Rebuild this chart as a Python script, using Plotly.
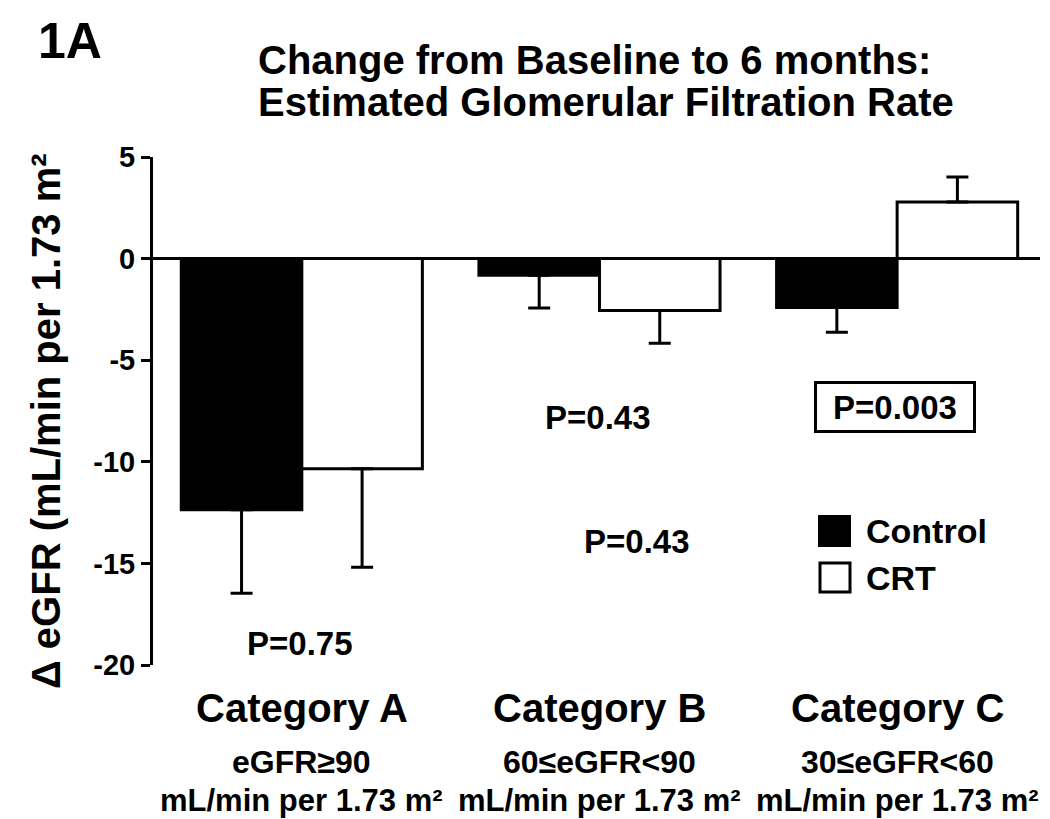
import plotly.graph_objects as go

categories = ["Category A", "Category B", "Category C"]
ranges = ["eGFR≥90", "60≤eGFR<90", "30≤eGFR<60"]
unit_label = "mL/min per 1.73 m²"

control_vals = [-12.36, -0.82, -2.41]
control_err_minus = [4.11, 1.61, 1.22]
control_err_plus = [0, 0, 0]

crt_vals = [-10.34, -2.55, 2.79]
crt_err_minus = [4.85, 1.61, 0]
crt_err_plus = [0, 0, 1.23]

y_ticks = [5, 0, -5, -10, -15, -20]
p_labels = ["P=0.75", "P=0.43", "P=0.43", "P=0.003"]
FONT = "Liberation Sans"

W, H = 1050, 819
ML, MR, MT, MB = 153, 10, 157, 154

fig = go.Figure()
fig.add_trace(go.Bar(
    x=categories, y=control_vals, name="Control",
    marker=dict(color="black", line=dict(color="black", width=3)),
    error_y=dict(type="data", symmetric=False, array=control_err_plus,
                 arrayminus=control_err_minus, color="black", thickness=3, width=11),
))
fig.add_trace(go.Bar(
    x=categories, y=crt_vals, name="CRT",
    marker=dict(color="white", line=dict(color="black", width=3)),
    error_y=dict(type="data", symmetric=False, array=crt_err_plus,
                 arrayminus=crt_err_minus, color="black", thickness=3, width=11),
))

fig.update_layout(
    width=W, height=H,
    margin=dict(l=ML, r=MR, t=MT, b=MB),
    paper_bgcolor="white", plot_bgcolor="white",
    barmode="group", bargap=0.19, bargroupgap=0,
    showlegend=False,
    font=dict(family=FONT, color="black"),
    xaxis=dict(range=[-0.5, 2.48], showticklabels=False, showline=False,
               showgrid=False, ticks="", zeroline=False),
    yaxis=dict(range=[-20, 5], tickvals=y_ticks, ticktext=[str(v) for v in y_ticks],
               showline=True, linecolor="black", linewidth=3,
               ticks="outside", ticklen=9, tickwidth=3, tickcolor="black",
               showgrid=False, zeroline=True, zerolinecolor="black", zerolinewidth=3,
               tickfont=dict(size=29, family=FONT, color="black", weight="bold")),
)


def px_x(px):
    return (px - ML) / (W - ML - MR)


def px_y(py):
    return (H - MB - py) / (H - MT - MB)


def bold(t):
    return f"<b>{t}</b>"


def note(x, y, text, size, xanchor="center", **kw):
    fig.add_annotation(x=px_x(x), y=px_y(y), xref="paper", yref="paper",
                       text=bold(text), showarrow=False, xanchor=xanchor,
                       yanchor="middle", font=dict(size=size, family=FONT, color="black"),
                       **kw)


# Panel label and title
note(36, 41, "1A", 50, xanchor="left")
note(256, 60, "Change from Baseline to 6 months:", 40, xanchor="left")
note(256, 102, "Estimated Glomerular Filtration Rate", 40, xanchor="left")

# Y axis title
note(46, 421, "Δ eGFR (mL/min per 1.73 m²", 40, textangle=-90)

# Category labels
for cat, rng in zip(categories, ranges):
    fig.add_annotation(x=cat, y=px_y(708), xref="x", yref="paper", text=bold(cat),
                       showarrow=False, xanchor="center", yanchor="middle",
                       font=dict(size=40, family=FONT, color="black"))
    fig.add_annotation(x=cat, y=px_y(762), xref="x", yref="paper", text=bold(rng),
                       showarrow=False, xanchor="center", yanchor="middle",
                       font=dict(size=32, family=FONT, color="black"))
    fig.add_annotation(x=cat, y=px_y(800), xref="x", yref="paper", text=bold(unit_label),
                       showarrow=False, xanchor="center", yanchor="middle",
                       font=dict(size=31, family=FONT, color="black"))

# P values
note(300, 643, p_labels[0], 33)
note(598, 417, p_labels[1], 33)
note(637, 541, p_labels[2], 33)
note(895, 407, p_labels[3], 33, bordercolor="black", borderwidth=3, borderpad=3,
     width=150, height=40, bgcolor="white")

# Legend (drawn manually)
fig.add_shape(type="rect", xref="paper", yref="paper",
              x0=px_x(819), x1=px_x(850), y0=px_y(546), y1=px_y(516),
              fillcolor="black", line=dict(color="black", width=2))
fig.add_shape(type="rect", xref="paper", yref="paper",
              x0=px_x(820), x1=px_x(850), y0=px_y(592), y1=px_y(563),
              fillcolor="white", line=dict(color="black", width=3))
note(864, 531, "Control", 34, xanchor="left")
note(864, 578, "CRT", 34, xanchor="left")

fig.write_html("out.html", config={"displayModeBar": False},
               post_script="document.body.style.margin='0px';document.body.style.overflow='hidden';")
